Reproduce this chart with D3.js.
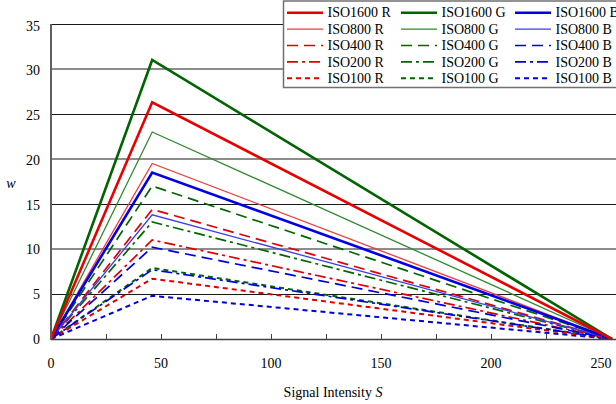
<!DOCTYPE html>
<html>
<head>
<meta charset="utf-8">
<script src="https://cdn.jsdelivr.net/npm/d3@7"></script>
<style>
	body { margin: 0; background: #fff; }
</style>
</head>
<body>
<div id="chart"></div>
<script>
	// signal intensity sample points (start, peak, end)
	const signal = [0, 46, 255];
	const isoLevels = ['ISO1600', 'ISO800', 'ISO400', 'ISO200', 'ISO100'];
	const channels = ['R', 'G', 'B'];
	// peak w values, per ISO level (rows) and channel (R, G, B)
	const peakR = [26.3, 19.5, 14.4, 11.0, 6.7];
	const peakG = [31.0, 23.0, 17.0, 13.0, 7.9];
	const peakB = [18.5, 13.8, 10.2, 7.7, 4.8];
	const yTicks = [0, 5, 10, 15, 20, 25, 30, 35];
	const xTicks = [0, 50, 100, 150, 200, 250];

	const width = 616;
	const height = 404;
	const margin = { top: 24, right: 0, bottom: 65, left: 51 };
	const serif = '"Liberation Serif", "Times New Roman", Times, "DejaVu Serif", serif';

	const colors = {
		ISO1600: { R: '#e60000', G: '#006400', B: '#0000e6' },
		ISO800: { R: '#f03c3c', G: '#2f8a2f', B: '#3c3cf0' },
		other: { R: '#e00000', G: '#006600', B: '#0000dd' }
	};
	const styles = {
		ISO1600: { w: 2.6, dash: null },
		ISO800: { w: 1.3, dash: null },
		ISO400: { w: 1.7, dash: '11,6' },
		ISO200: { w: 1.7, dash: '11,4,3,4' },
		ISO100: { w: 2, dash: '5,4' }
	};

	const svg = d3.select('#chart').append('svg')
		.attr('width', width)
		.attr('height', height)
		.attr('font-family', serif)
		.attr('font-size', 14);

	const x = d3.scaleLinear()
		.domain([0, 250])
		.range([margin.left, 601]);
	const y = d3.scaleLinear()
		.domain([0, 35])
		.range([339, 24]);

	// gridlines (every other one falls between pixels, as in the original)
	svg.append('g')
		.selectAll('line')
			.data(yTicks.slice(1))
			.enter().append('line')
				.attr('x1', margin.left)
				.attr('x2', width)
				.attr('y1', d => Math.round(y(d)) + (d % 10 === 0 ? 0 : 0.5))
				.attr('y2', d => Math.round(y(d)) + (d % 10 === 0 ? 0 : 0.5))
				.style('stroke', '#1a1a1a')
				.style('stroke-width', 1);

	// series
	const peaks = { R: peakR, G: peakG, B: peakB };
	const series = [];
	isoLevels.forEach((iso, i) => {
		channels.forEach(ch => {
			series.push({
				iso, ch,
				name: `${iso} ${ch}`,
				values: signal.map((s, j) => ({ s, w: j === 1 ? peaks[ch][i] : 0 }))
			});
		});
	});
	const colorOf = d => (colors[d.iso] || colors.other)[d.ch];

	const line = d3.line()
		.x(d => x(d.s))
		.y(d => y(d.w));

	svg.append('g')
		.selectAll('path')
			.data(series.slice().reverse())
			.enter().append('path')
				.attr('d', d => line(d.values))
				.style('fill', 'none')
				.style('stroke', colorOf)
				.style('stroke-width', d => styles[d.iso].w)
				.style('stroke-dasharray', d => styles[d.iso].dash)
				.style('stroke-linejoin', 'miter');

	// axes
	svg.append('line')
		.attr('x1', margin.left).attr('x2', margin.left)
		.attr('y1', 24).attr('y2', 340)
		.style('stroke', '#606060').style('stroke-width', 2);
	svg.append('line')
		.attr('x1', margin.left).attr('x2', width)
		.attr('y1', 339.5).attr('y2', 339.5)
		.style('stroke', '#404040').style('stroke-width', 1.5);

	svg.append('g')
		.selectAll('line')
			.data(d3.range(25, 260, 25))
			.enter().append('line')
				.attr('x1', d => Math.round(x(d)) + 0.5)
				.attr('x2', d => Math.round(x(d)) + 0.5)
				.attr('y1', 334)
				.attr('y2', 339)
				.style('stroke', '#404040');

	svg.append('g')
		.selectAll('text')
			.data(yTicks)
			.enter().append('text')
				.attr('x', 40)
				.attr('y', d => y(d) + 2 * d / 35)
				.attr('dy', '0.34em')
				.attr('text-anchor', 'end')
				.text(d => d);

	svg.append('g')
		.selectAll('text')
			.data(xTicks)
			.enter().append('text')
				.attr('x', d => x(d))
				.attr('y', 368)
				.attr('text-anchor', 'middle')
				.text(d => d);

	const xLabel = svg.append('text')
		.attr('x', 333)
		.attr('y', 397)
		.attr('text-anchor', 'middle');
	xLabel.append('tspan').text('Signal Intensity ');
	xLabel.append('tspan').style('font-style', 'italic').text('S');

	svg.append('text')
		.attr('x', 11)
		.attr('y', 188)
		.attr('text-anchor', 'middle')
		.style('font-style', 'italic')
		.text('w');

	// legend
	const legend = svg.append('g');
	legend.append('rect')
		.attr('x', 283.5)
		.attr('y', 1)
		.attr('width', 340)
		.attr('height', 86.5)
		.style('fill', '#fff')
		.style('stroke', '#707070')
		.style('stroke-width', 1.5);

	const item = legend.selectAll('.item')
		.data(series)
		.enter().append('g')
			.attr('class', 'item')
			.attr('transform', d => {
				const col = channels.indexOf(d.ch);
				const row = isoLevels.indexOf(d.iso);
				return `translate(${287 + col * 114}, ${12.7 + row * 16.4})`;
			});
	item.append('line')
		.attr('x1', 0)
		.attr('x2', 36)
		.style('stroke', colorOf)
		.style('stroke-width', d => styles[d.iso].w)
		.style('stroke-dasharray', d => styles[d.iso].dash);
	item.append('text')
		.attr('x', 40.5)
		.attr('dy', '0.34em')
		.text(d => d.name);
</script>
</body>
</html>
